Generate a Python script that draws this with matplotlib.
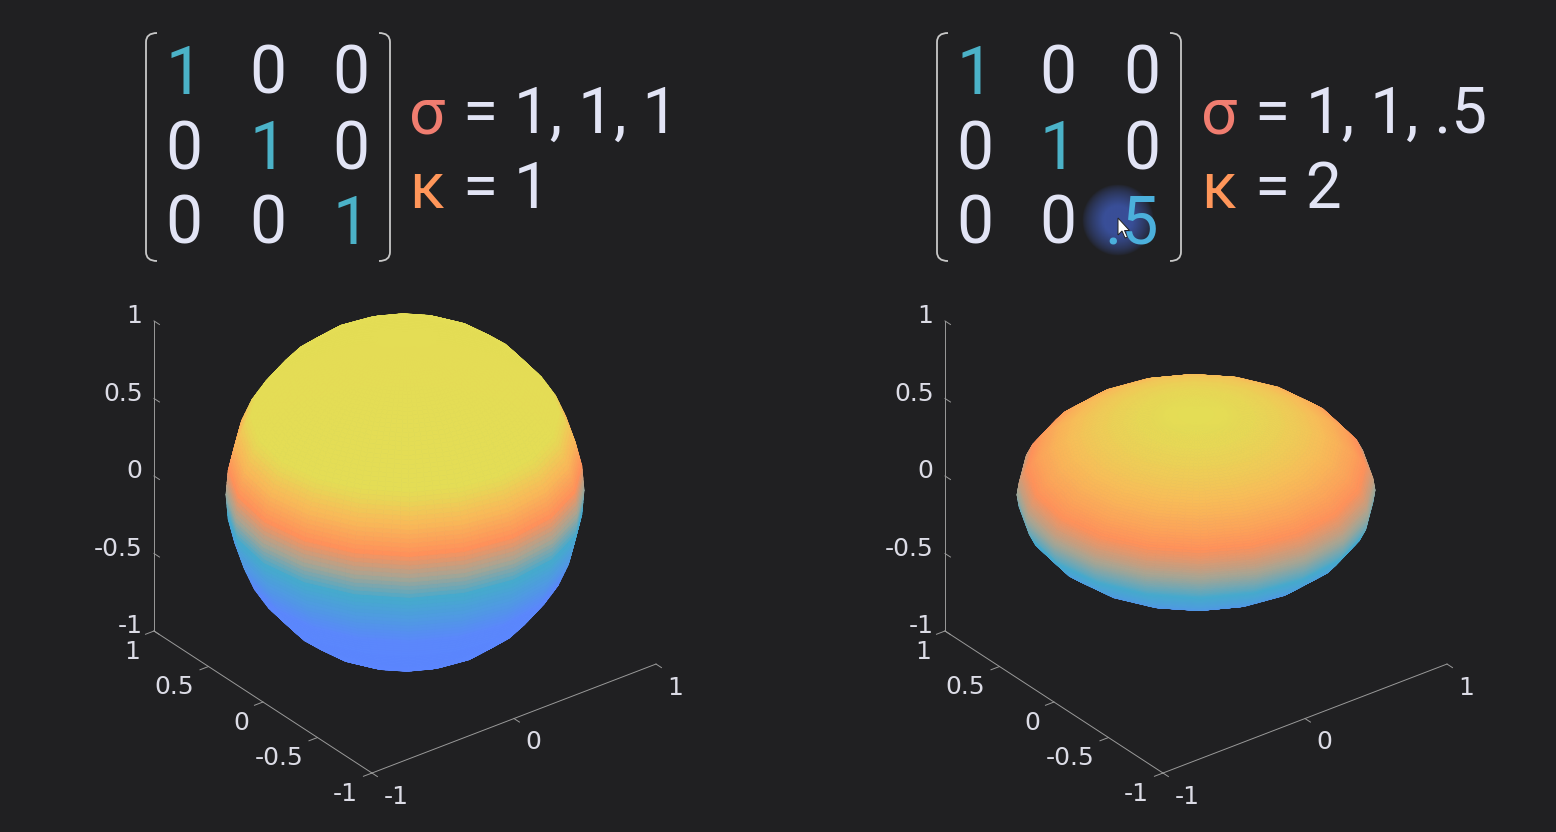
import matplotlib
matplotlib.use('Agg')
import matplotlib.pyplot as plt
import numpy as np
from matplotlib.colors import LinearSegmentedColormap
from matplotlib.patches import PathPatch, Polygon
from matplotlib.path import Path

BG = '#202022'
TEXT = '#e2e4f5'
TEAL = '#4bb2c8'
SKY = '#4bb0dc'
RED = '#f07d70'
ORANGE = '#ff965a'
AXIS = '#9a9a9a'
TICK_TEXT = '#dcdce6'

# panels: matrix entries, singular values, condition number
matrix_left = [['1', '0', '0'], ['0', '1', '0'], ['0', '0', '1']]
matrix_right = [['1', '0', '0'], ['0', '1', '0'], ['0', '0', '.5']]
sigma_left = '= 1, 1, 1'
sigma_right = '= 1, 1, .5'
kappa_left = '= 1'
kappa_right = '= 2'
radii_left = [1, 1, 1]
radii_right = [1, 1, .5]

x_ticks = [-1, 0, 1]
y_ticks = [-1, -0.5, 0, 0.5, 1]
z_ticks = [-1, -0.5, 0, 0.5, 1]

# surface colour against height
color_z = [-1, -0.45, -0.12, 0.03, 0.17, 0.35, 0.5, 1]
color_hex = ['#5b85ff', '#5b87fc', '#46aacd', '#aaa592', '#ff915a', '#f8bc58', '#e4dd55', '#e4dd55']

n_faces = 20   # matlab sphere(20)
n_sub = 6

cmap = LinearSegmentedColormap.from_list(
    'surf', [((z + 1) / 2, c) for z, c in zip(color_z, color_hex)], N=512)


def tick_str(v):
    return '%g' % v


def draw_surface(ax, radii):
    # coarse faceted mesh, cut finer so the colour looks interpolated
    u = np.arange(n_faces + 1)
    uf = np.linspace(0, n_faces, n_faces * n_sub + 1)
    phi_c = np.linspace(-np.pi / 2, np.pi / 2, n_faces + 1)
    cx = np.outer(np.cos(phi_c), np.cos(np.linspace(-np.pi, np.pi, n_faces + 1)))
    cy = np.outer(np.cos(phi_c), np.sin(np.linspace(-np.pi, np.pi, n_faces + 1)))
    cz = np.outer(np.sin(phi_c), np.ones(n_faces + 1))

    def refine(a):
        a = np.array([np.interp(uf, u, row) for row in a])
        return np.array([np.interp(uf, u, col) for col in a.T]).T

    X = refine(cx) * radii[0]
    Y = refine(cy) * radii[1]
    Z = refine(cz) * radii[2]
    zc = (Z[:-1, :-1] + Z[1:, 1:]) / 2
    colors = cmap((zc + 1) / 2)
    ax.plot_surface(X, Y, Z, facecolors=colors, rstride=1, cstride=1,
                    shade=False, linewidth=0.6, antialiased=True)


def draw_axes(ax):
    c = dict(color=AXIS, lw=0.7)
    ax.plot([-1, 1], [-1, -1], [-1, -1], **c)
    ax.plot([-1, -1], [-1, 1], [-1, -1], **c)
    ax.plot([-1, -1], [1, 1], [-1, 1], **c)
    for t in x_ticks:
        ax.plot([t, t], [-1, -1.05], [-1, -1], **c)
        ax.text(t, -1.105, -1.105, tick_str(t), color=TICK_TEXT, fontsize=18,
                ha='left', va='center')
    for t in y_ticks:
        ax.plot([-1, -1.06], [t, t], [-1, -1], **c)
        ax.text(-1.10, t, -1.10, tick_str(t), color=TICK_TEXT, fontsize=18,
                ha='right', va='center')
    for t in z_ticks:
        ax.plot([-1, -1], [1, 0.95], [t, t], **c)
        ax.text(-1.05, 1.04, t + 0.03, tick_str(t), color=TICK_TEXT, fontsize=18,
                ha='right', va='center')


def make_panel(fig, cx, cy, radii):
    size = 602.0
    left = (cx - 0.5135 * size) / 1556
    bottom = (832 - cy - 0.5135 * size) / 832
    ax = fig.add_axes([left, bottom, size / 1556, size / 832], projection='3d',
                      proj_type='ortho')
    ax.set_box_aspect((1, 1, 1))
    ax.set_xlim(-1, 1)
    ax.set_ylim(-1, 1)
    ax.set_zlim(-1, 1)
    ax.set_xticks([])
    ax.set_yticks([])
    ax.set_zticks([])
    ax.view_init(elev=30, azim=-127.5)
    ax.set_axis_off()
    ax.patch.set_alpha(0)
    draw_surface(ax, radii)
    draw_axes(ax)
    return ax


def bracket(ov, x, top, bottom, side):
    hook = 11 * side
    r = 9
    verts = [(x + hook, top), (x, top), (x, top + r), (x, bottom - r), (x, bottom), (x + hook, bottom)]
    codes = [Path.MOVETO, Path.CURVE3, Path.CURVE3, Path.LINETO, Path.CURVE3, Path.CURVE3]
    ov.add_patch(PathPatch(Path(verts, codes), fill=False, ec='#c8c8c8', lw=1.3))


def big(ov, x, y, s, color, ha='center', size=47.5):
    ov.text(x, y, s, color=color, fontsize=size, family='Roboto', fontweight='normal',
            ha=ha, va='baseline')


def draw_matrix(ov, m, cols, x0, x1):
    rows = [94, 169, 244]
    bracket(ov, x0, 33, 261, 1)
    bracket(ov, x1, 33, 261, -1)
    for i, row in enumerate(m):
        for j, s in enumerate(row):
            if i != j:
                big(ov, cols[j], rows[i], s, TEXT)
            elif s == '.5':
                big(ov, cols[j] + 17, rows[i], s, SKY, ha='right')
            else:
                big(ov, cols[j], rows[i], s, TEAL)


plt.rcParams['font.family'] = ['DejaVu Sans']
fig = plt.figure(figsize=(15.56, 8.32), dpi=100, facecolor=BG)

make_panel(fig, 405, 492.5, radii_left)
make_panel(fig, 1196, 492.5, radii_right)

ov = fig.add_axes([0, 0, 1, 1], facecolor='none')
ov.set_axis_off()

# mouse highlight under the .5
gx, gy = np.meshgrid(np.linspace(-1, 1, 120), np.linspace(-1, 1, 120))
glow = np.zeros((120, 120, 4))
glow[..., :3] = (60 / 255, 84 / 255, 165 / 255)
glow[..., 3] = np.clip((1 - np.hypot(gx, gy)) / 0.6, 0, 1) ** 0.7 * 0.9
ov.imshow(glow, extent=(1082, 1154, 256, 184), aspect='auto', interpolation='bilinear')
ov.set_xlim(0, 1556)
ov.set_ylim(832, 0)
ov.set_xticks([])
ov.set_yticks([])

draw_matrix(ov, matrix_left, [184, 268, 351], 146, 390)
draw_matrix(ov, matrix_right, [975, 1058, 1142], 937, 1181)

label_size = 46
big(ov, 409, 133, 'σ', RED, ha='left', size=label_size)
big(ov, 463, 133, sigma_left, TEXT, ha='left', size=label_size)
big(ov, 409, 208, 'κ', ORANGE, ha='left', size=label_size)
big(ov, 463, 208, kappa_left, TEXT, ha='left', size=label_size)
big(ov, 1201, 133, 'σ', RED, ha='left', size=label_size)
big(ov, 1255, 133, sigma_right, TEXT, ha='left', size=label_size)
big(ov, 1201, 208, 'κ', ORANGE, ha='left', size=label_size)
big(ov, 1255, 208, kappa_right, TEXT, ha='left', size=label_size)

# cursor
cur = np.array([(0, 0), (0, 17), (4, 13), (7, 20), (9.5, 19), (6.5, 12.5), (11.5, 12.5)]) + (1118, 218)
ov.add_patch(Polygon(cur, closed=True, fc='white', ec='#222222', lw=0.7))

fig.savefig('out.png', dpi=100, facecolor=BG)
plt.close()
